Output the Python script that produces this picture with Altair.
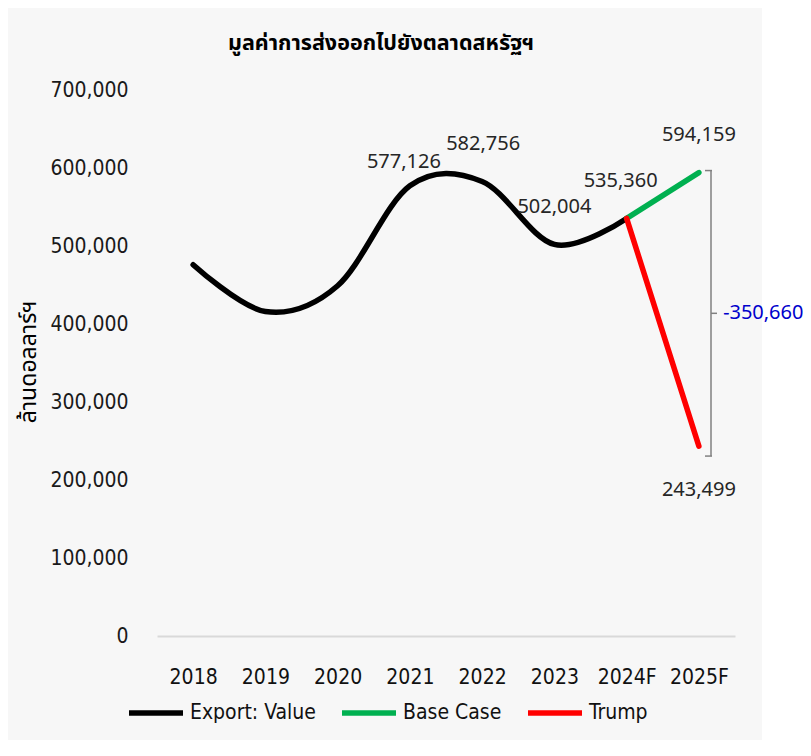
import altair as alt
import pandas as pd

years = ["2018", "2019", "2020", "2021", "2022", "2023", "2024F", "2025F"]
export_values = [476000, 416000, 449000, 577126, 582756, 502004, 535360]
base_case = [535360, 594159]
trump = [535360, 243499]
series_names = ["Export: Value", "Base Case", "Trump"]
series_colors = ["#000000", "#00b050", "#ff0000"]
title_text = "มูลค่าการส่งออกไปยังตลาดสหรัฐฯ"
y_title_text = "ล้านดอลลาร์ฯ"

FONT = "Tahoma, 'Noto Sans Thai', 'Noto Sans', 'DejaVu Sans', sans-serif"
NARROW = "'Liberation Sans Narrow', 'DejaVu Sans Condensed', 'Noto Sans Thai', 'Noto Sans', sans-serif"

rows = []
for y, v in zip(years[:7], export_values):
    rows.append({"year": y, "value": v, "series": series_names[0]})
for y, v in zip(years[6:], base_case):
    rows.append({"year": y, "value": v, "series": series_names[1]})
for y, v in zip(years[6:], trump):
    rows.append({"year": y, "value": v, "series": series_names[2]})
df = pd.DataFrame(rows)

xenc = alt.X("year:N", sort=years, scale=alt.Scale(type="point", padding=0.5, domain=years),
             axis=alt.Axis(title=None, labelFont=NARROW, labelFontSize=21, labelColor="#111111",
                           ticks=False, domainColor="#d9d9d9", domainWidth=2, labelPadding=30,
                           labelAngle=0, grid=False, zindex=1))
yscale = alt.Scale(domain=[0, 700000], nice=False)
yenc = alt.Y("value:Q", scale=yscale,
             axis=alt.Axis(title=None, values=list(range(0, 700001, 100000)), format=",d",
                           labelFont=NARROW, labelFontSize=21, labelColor="#1a1a1a",
                           ticks=False, domain=False, grid=False, labelPadding=29, zindex=1))

bg = alt.Chart(pd.DataFrame({"a": [0]})).mark_rect(color="#f7f7f7").encode(
    x=alt.value(-151), x2=alt.value(605), y=alt.value(-84), y2=alt.value(670))

lines = alt.Chart(df).mark_line(interpolate="cardinal", strokeWidth=5.5, strokeCap="round",
                                strokeJoin="round").encode(
    x=xenc, y=yenc,
    color=alt.Color("series:N", scale=alt.Scale(domain=series_names, range=series_colors),
                    sort=series_names,
                    legend=alt.Legend(title=None, orient="none", direction="horizontal",
                                      legendX=-31, legendY=593, symbolType="stroke",
                                      symbolSize=2916, symbolStrokeWidth=5.5,
                                      labelFont=NARROW, labelFontSize=21, labelColor="#111111",
                                      labelOffset=4, columnPadding=15)),
    order=alt.Order("order:Q"),
).transform_calculate(order="indexof(['2018','2019','2020','2021','2022','2023','2024F','2025F'], datum.year)")

label_points = [
    (years[3], export_values[3], -6, -24),
    (years[4], export_values[4], 1, -37),
    (years[5], export_values[5], 0, -37),
    (years[6], export_values[6], -6, -37),
    (years[7], base_case[1], 0, -38),
    (years[7], trump[1], 0, 44),
]
label_layers = []
for yr, val, dx, dy in label_points:
    ldf = pd.DataFrame({"year": [yr], "value": [val]})
    label_layers.append(
        alt.Chart(ldf).mark_text(font=FONT, fontSize=20, color="#262626", dx=dx, dy=dy,
                                 baseline="middle", align="center").encode(
            x=alt.X("year:N", sort=years), y=alt.Y("value:Q", scale=yscale),
            text=alt.Text("value:Q", format=",d")))

bdf = pd.DataFrame({"top": [base_case[1]], "bottom": [trump[1]]})
bracket_main = alt.Chart(bdf).mark_rule(color="#808080", strokeWidth=1.5, yOffset=-2, y2Offset=10).encode(
    x=alt.value(554), y=alt.Y("top:Q", scale=yscale), y2="bottom:Q")
bracket_top = alt.Chart(bdf).mark_rule(color="#808080", strokeWidth=1.5, yOffset=-2).encode(
    x=alt.value(548), x2=alt.value(555), y=alt.Y("top:Q", scale=yscale))
bracket_bot = alt.Chart(bdf).mark_rule(color="#808080", strokeWidth=1.5, yOffset=10).encode(
    x=alt.value(548), x2=alt.value(555), y=alt.Y("bottom:Q", scale=yscale))
bracket_mid = alt.Chart(bdf).transform_calculate(mid="(datum.top + datum.bottom) / 2").mark_rule(
    color="#808080", strokeWidth=1.5, yOffset=4).encode(
    x=alt.value(554), x2=alt.value(560), y=alt.Y("mid:Q", scale=yscale))
bracket_label = alt.Chart(bdf).transform_calculate(
    mid="(datum.top + datum.bottom) / 2", diff="datum.bottom - datum.top").mark_text(
    font=FONT, fontSize=20, color="#0000cc", align="left", baseline="middle", yOffset=4).encode(
    x=alt.value(566), y=alt.Y("mid:Q", scale=yscale), text=alt.Text("diff:Q", format=",d"))

title = alt.Chart(pd.DataFrame({"t": [title_text]})).mark_text(
    font=FONT, fontSize=21.5, fontWeight="bold", color="#000000", align="center", baseline="middle").encode(
    x=alt.value(224), y=alt.value(-46), text="t:N")
ytitle = alt.Chart(pd.DataFrame({"t": [y_title_text]})).mark_text(
    font=FONT, fontSize=23, color="#000000", align="center", baseline="middle", angle=270).encode(
    x=alt.value(-128), y=alt.value(272), text="t:N")

chart = alt.layer(bg, lines, *label_layers, bracket_main, bracket_top, bracket_bot, bracket_mid,
                  bracket_label, title, ytitle).properties(
    width=578, height=546,
    padding={"left": 149, "top": 82, "right": 68, "bottom": 104},
    autosize=alt.AutoSizeParams(type="none"),
).configure_view(strokeWidth=0).configure(background="#ffffff")

chart.save("out.html", embed_options={"renderer": "svg", "actions": False})
